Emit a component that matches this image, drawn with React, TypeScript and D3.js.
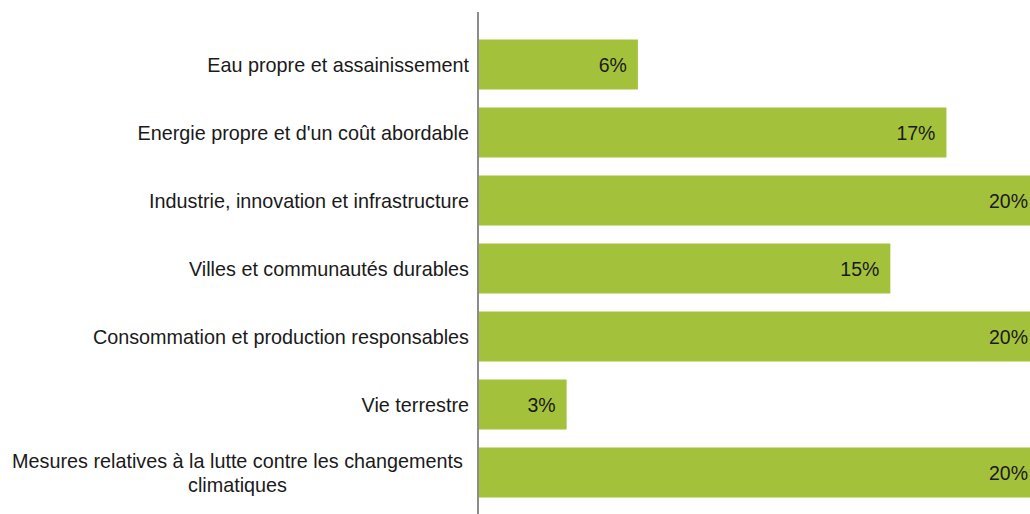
import React from "react";
import * as d3 from "d3";

const categories: string[][] = [
  ["Eau propre et assainissement"],
  ["Energie propre et d'un coût abordable"],
  ["Industrie, innovation et infrastructure"],
  ["Villes et communautés durables"],
  ["Consommation et production responsables"],
  ["Vie terrestre"],
  ["Mesures relatives à la lutte contre les changements", "climatiques"],
];
const values: number[] = [5.7, 16.7, 20, 14.7, 20, 3.16, 20];
const valueLabels: string[] = ["6%", "17%", "20%", "15%", "20%", "3%", "20%"];

const W = 1030;
const H = 514;
const axisX = 478;
const FONT = "'Liberation Sans', Arial, sans-serif";

export default function App() {
  const ids = categories.map((_, i) => String(i));
  const y = d3
    .scaleBand<string>()
    .domain(ids)
    .range([30.5, 506.5])
    .paddingInner(18 / 68)
    .paddingOuter(9 / 68);
  const x = d3.scaleLinear().domain([0, 20]).range([axisX, axisX + 561]);

  return (
    <svg
      width={W}
      height={H}
      style={{ position: "absolute", left: 0, top: 0, background: "#fff" }}
      fontFamily={FONT}
    >
      {values.map((v, i) => {
        const y0 = y(ids[i])!;
        const bw = y.bandwidth();
        const cy = y0 + bw / 2;
        const lines = categories[i];
        return (
          <g key={i}>
            <rect x={x(0)} y={y0} width={x(v) - x(0)} height={bw} fill="#a4c13b" />
            <text
              x={x(v) - 11}
              y={cy}
              textAnchor="end"
              dominantBaseline="central"
              fontSize={19.5}
              fill="#1a1a1a"
            >
              {valueLabels[i]}
            </text>
            {lines.length === 1 ? (
              <text
                x={axisX - 9}
                y={cy}
                textAnchor="end"
                dominantBaseline="central"
                fontSize={19.8}
                fill="#1a1a1a"
              >
                {lines[0]}
              </text>
            ) : (
              lines.map((ln, j) => (
                <text
                  key={j}
                  x={237.5}
                  y={cy + (j - (lines.length - 1) / 2) * 24}
                  textAnchor="middle"
                  dominantBaseline="central"
                  fontSize={19.8}
                  fill="#1a1a1a"
                >
                  {ln}
                </text>
              ))
            )}
          </g>
        );
      })}
      <line x1={axisX} x2={axisX} y1={12} y2={H} stroke="#8c8c8c" strokeWidth={2} />
    </svg>
  );
}
